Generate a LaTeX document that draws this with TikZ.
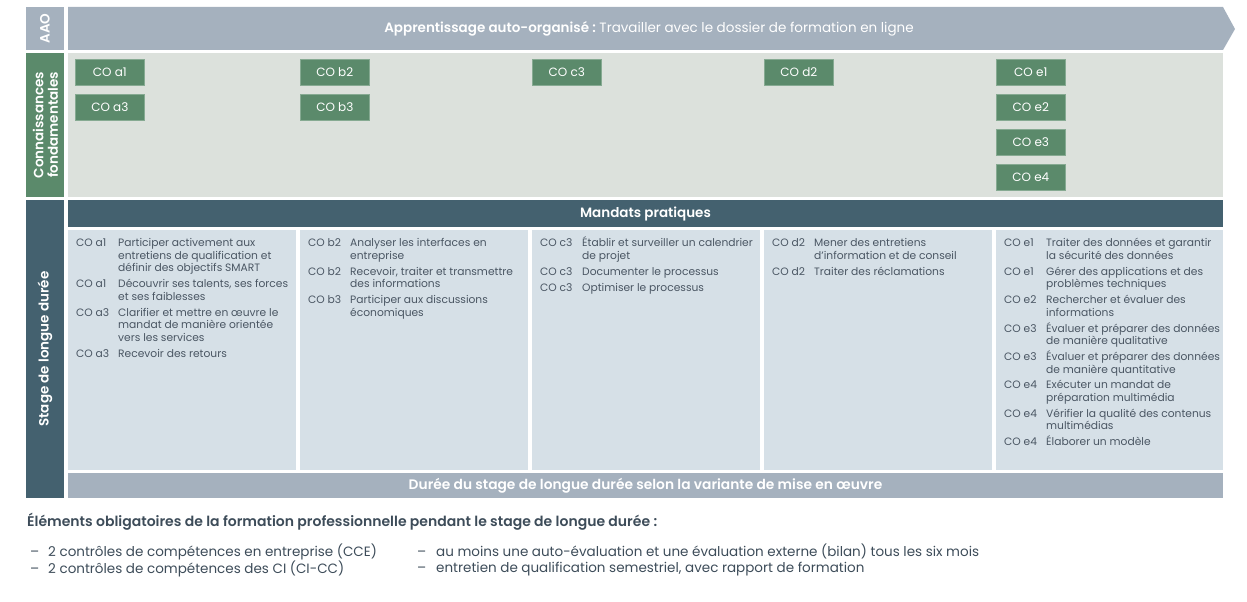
\documentclass[tikz,border=0pt]{standalone}
\usepackage{fontspec}
\setmainfont{Poppins}[BoldFont={Poppins SemiBold}]
\definecolor{aaogray}{HTML}{A5B1BE}
\definecolor{cfgreen}{HTML}{5B8A6B}
\definecolor{cfborder}{HTML}{86AA92}
\definecolor{cfbg}{HTML}{DCE1DC}
\definecolor{darkteal}{HTML}{44616F}
\definecolor{colbg}{HTML}{D6E0E7}
\definecolor{coltxt}{HTML}{4A5663}
\definecolor{bottxt}{HTML}{3D4C59}
\tikzset{
  vlabel/.style={rotate=90, text=white, font=\fontsize{13.5}{14.5}\selectfont\bfseries, align=center, inner sep=0pt},
  cobox/.style={fill=cfgreen, draw=cfborder, line width=0.6pt, minimum width=69pt, minimum height=25.5pt, inner sep=0pt, anchor=north west, text=white, font=\fontsize{12}{13}\selectfont},
  coltext/.style={anchor=north west, inner sep=0pt, font=\fontsize{10.7}{12.5}\selectfont, text=coltxt, align=left},
  headtext/.style={text=white, font=\fontsize{13.5}{14}\selectfont\bfseries, inner sep=0pt},
  bottext/.style={inner sep=0pt, text=bottxt, align=left},
}
\begin{document}
\begin{tikzpicture}[x=1pt,y=-1pt]
\useasboundingbox (0,0) rectangle (1247,602);
% left labels
\fill[aaogray] (26,7) rectangle (64,50);
\fill[cfgreen] (26,53) rectangle (64,197);
\fill[darkteal] (26,200) rectangle (64,498);
\node[vlabel] (lAAO) at (45,28.5) {AAO};
\node[vlabel] (lCF) at (45.5,125) {Connaissances\\fondamentales};
\node[vlabel] (lSL) at (45,349) {Stage de longue durée};
% AAO arrow
\fill[aaogray] (68,7) -- (1223,7) -- (1235,29) -- (1223,50) -- (68,50) -- cycle;
\node[headtext] (aao) at (649,29) {Apprentissage auto-organisé :\mdseries\ Travailler avec le dossier de formation en ligne};
% CF area
\fill[cfbg] (68,53) rectangle (1223,197);
\node[cobox] (a1) at (75,59) {CO a1};
\node[cobox] (a3) at (75,94) {CO a3};
\node[cobox] (b2) at (300,59) {CO b2};
\node[cobox] (b3) at (300,94) {CO b3};
\node[cobox] (c3) at (532,59) {CO c3};
\node[cobox] (d2) at (764,59) {CO d2};
\node[cobox] (e1) at (996,59) {CO e1};
\node[cobox] (e2) at (996,94) {CO e2};
\node[cobox] (e3) at (996,129) {CO e3};
\node[cobox] (e4) at (996,164) {CO e4};
% Stage
\fill[darkteal] (68,200) rectangle (1223,227);
\node[headtext] (mp) at (645.5,214) {Mandats pratiques};
\fill[colbg] (68,230) rectangle (296,470);
\fill[colbg] (300,230) rectangle (528,470);
\fill[colbg] (532,230) rectangle (760,470);
\fill[colbg] (764,230) rectangle (992,470);
\fill[colbg] (996,230) rectangle (1223,470);
\fill[aaogray] (68,473) rectangle (1223,498);
\node[headtext, font=\fontsize{13.8}{14}\selectfont\bfseries] (dur) at (645.5,485.5) {Durée du stage de longue durée selon la variante de mise en œuvre};
% column texts
\node[coltext] (t1) at (76,238) {\begin{tabular}{@{}p{42pt}@{}l@{}}
CO a1 & Participer activement aux\\
 & entretiens de qualification et\\
 & définir des objectifs SMART\\[3.4pt]
CO a1 & Découvrir ses talents, ses forces\\
 & et ses faiblesses\\[3.4pt]
CO a3 & Clarifier et mettre en œuvre le\\
 & mandat de manière orientée\\
 & vers les services\\[3.4pt]
CO a3 & Recevoir des retours
\end{tabular}};
\node[coltext] (t2) at (308,238) {\begin{tabular}{@{}p{42pt}@{}l@{}}
CO b2 & Analyser les interfaces en\\
 & entreprise\\[3.4pt]
CO b2 & Recevoir, traiter et transmettre\\
 & des informations\\[3.4pt]
CO b3 & Participer aux discussions\\
 & économiques
\end{tabular}};
\node[coltext] (t3) at (540,238) {\begin{tabular}{@{}p{42pt}@{}l@{}}
CO c3 & \smash{É}tablir et surveiller un calendrier\\
 & de projet\\[3.4pt]
CO c3 & Documenter le processus\\[3.4pt]
CO c3 & Optimiser le processus
\end{tabular}};
\node[coltext] (t4) at (772,238) {\begin{tabular}{@{}p{42pt}@{}l@{}}
CO d2 & Mener des entretiens\\
 & d'information et de conseil\\[3.4pt]
CO d2 & Traiter des réclamations
\end{tabular}};
\node[coltext] (t5) at (1004,238) {\begin{tabular}{@{}p{42pt}@{}l@{}}
CO e1 & Traiter des données et garantir\\
 & la sécurité des données\\[3.4pt]
CO e1 & Gérer des applications et des\\
 & problèmes techniques\\[3.4pt]
CO e2 & Rechercher et évaluer des\\
 & informations\\[3.4pt]
CO e3 & \smash{É}valuer et préparer des données\\
 & de manière qualitative\\[3.4pt]
CO e3 & \smash{É}valuer et préparer des données\\
 & de manière quantitative\\[3.4pt]
CO e4 & Exécuter un mandat de\\
 & préparation multimédia\\[3.4pt]
CO e4 & Vérifier la qualité des contenus\\
 & multimédias\\[3.4pt]
CO e4 & \smash{É}laborer un modèle
\end{tabular}};
% bottom text
\node[bottext, anchor=west, font=\fontsize{14}{15}\selectfont\bfseries] (title) at (27,522) {Éléments obligatoires de la formation professionnelle pendant le stage de longue durée :};
\node[bottext, anchor=north west, font=\fontsize{13.5}{16}\selectfont] (bl1) at (30,543.5) {\begin{tabular}{@{}p{18pt}@{}l@{}}
– & 2 contrôles de compétences en entreprise (CCE)\\
– & 2 contrôles de compétences des CI (CI-CC)
\end{tabular}};
\node[bottext, anchor=north west, font=\fontsize{13.5}{16}\selectfont] (bl2) at (417,543.5) {\begin{tabular}{@{}p{19pt}@{}l@{}}
– & au moins une auto-évaluation et une évaluation externe (bilan) tous les six mois\\
– & entretien de qualification semestriel, avec rapport de formation
\end{tabular}};
\end{tikzpicture}
\end{document}
